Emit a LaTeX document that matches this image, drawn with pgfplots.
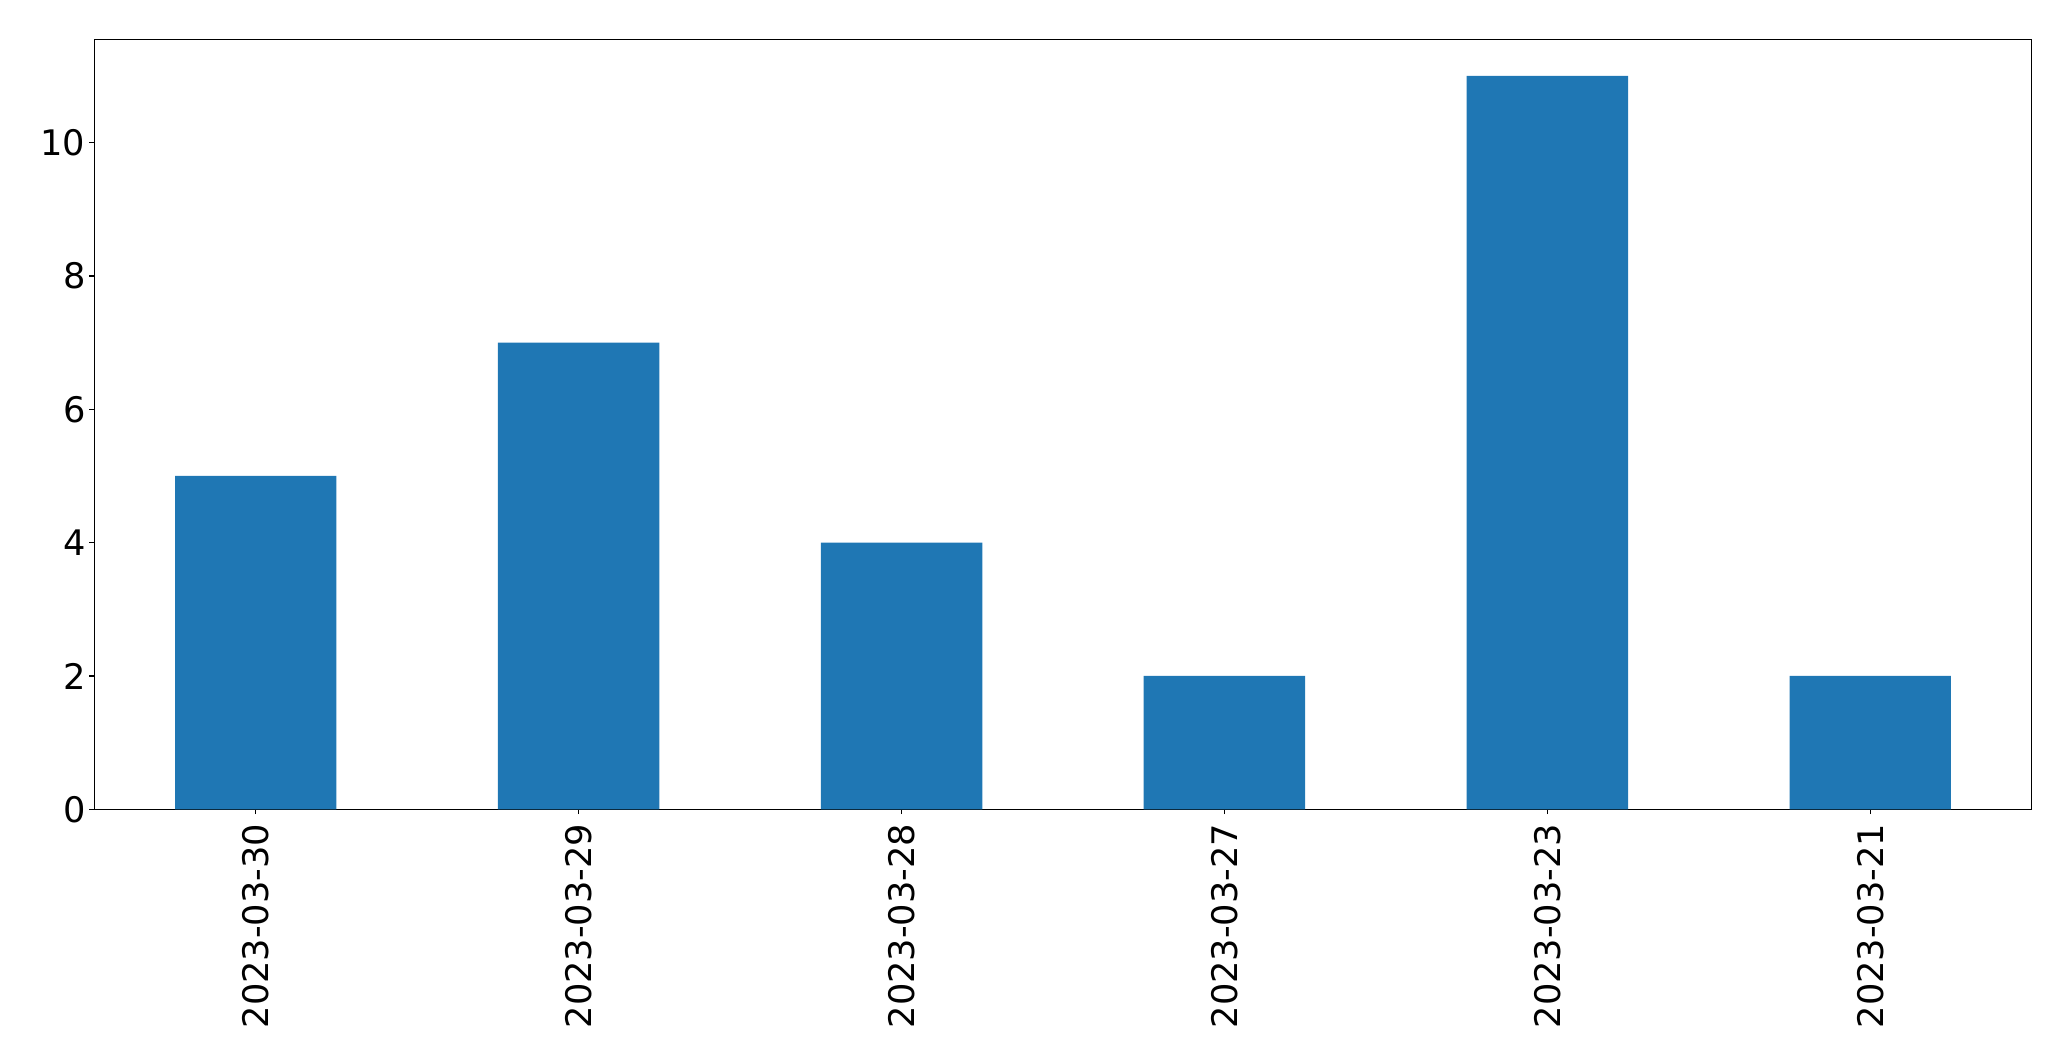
\documentclass[border=0pt]{standalone}
\usepackage{fontspec}
\setmainfont{DejaVu Sans}
\usepackage{pgfplots}
\pgfplotsset{compat=1.18}
\definecolor{mplblue}{HTML}{1F77B4}
\begin{document}
\begin{tikzpicture}
\begin{axis}[
  scale only axis,
  width=968.7pt, height=385pt,
  xmin=-0.5, xmax=5.5, ymin=0, ymax=11.55,
  xtick={0,1,2,3,4,5},
  xticklabels={2023-03-30,2023-03-29,2023-03-28,2023-03-27,2023-03-23,2023-03-21},
  ytick={0,2,4,6,8,10},
  tick align=outside,
  major tick length=2.45pt,
  tick style={line width=0.6pt, black},
  axis line style={line width=0.6pt, black},
  xtick pos=bottom, ytick pos=left,
  /pgf/number format/assume math mode=true,
  tick label style={font=\fontsize{17.6}{20}\selectfont},
  yticklabel style={inner sep=0pt, xshift=-1.8pt},
  xticklabel style={yshift=-4.6pt, rotate=90, anchor=east, inner sep=0pt},
]
\addplot[ybar, bar width=0.5, fill=mplblue, draw=none, bar shift=0pt] coordinates {
 (0,5) (1,7) (2,4) (3,2) (4,11) (5,2)
};
\end{axis}
\path (current axis.south west) ++(-47.15pt,-125.85pt) rectangle ++(1035.5pt,530.5pt);
\end{tikzpicture}
\end{document}
